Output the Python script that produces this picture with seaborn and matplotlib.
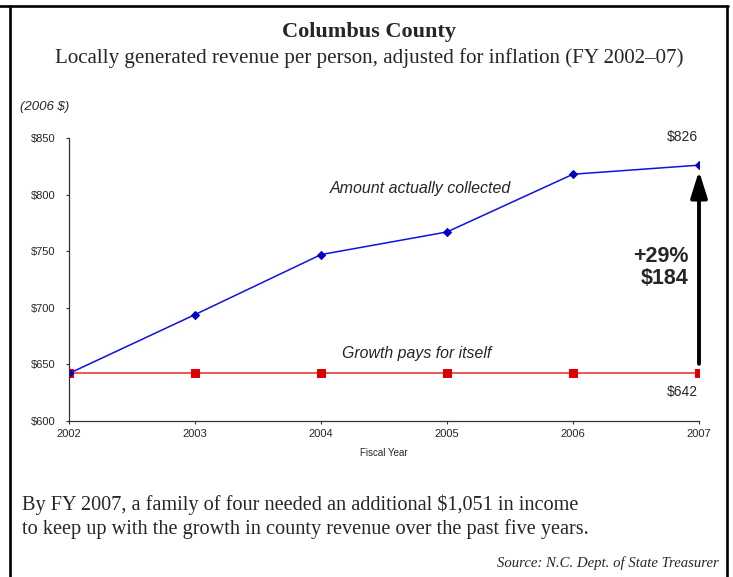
import matplotlib
matplotlib.use("Agg")
import matplotlib.pyplot as plt
import matplotlib.lines as mlines
import seaborn as sns
import pandas as pd

# values
years = [2002, 2003, 2004, 2005, 2006, 2007]
collected = [642, 694, 747, 767, 818, 826]
baseline = [642, 642, 642, 642, 642, 642]
y_ticks = [600, 650, 700, 750, 800, 850]

df = pd.DataFrame({"year": years, "collected": collected, "baseline": baseline})

W, H = 733, 577

sns.set_style("ticks")
plt.rcParams["font.family"] = ["Liberation Sans", "DejaVu Sans"]

fig = plt.figure(figsize=(W / 100, H / 100), dpi=100)
ax = fig.add_axes([69 / W, 1 - 421 / H, 630 / W, 283 / H])

sns.lineplot(data=df, x="year", y="baseline", ax=ax, color="#e8393b", lw=1.2,
             marker="s", markersize=5.5, markeredgecolor="#dd0000",
             markerfacecolor="#dd0000")
sns.lineplot(data=df, x="year", y="collected", ax=ax, color="#1010e0", lw=1.1,
             marker="D", markersize=4, markeredgecolor="#0000c0",
             markerfacecolor="#0000c0")

ax.set_xlim(years[0], years[-1])
ax.set_ylim(y_ticks[0], y_ticks[-1])
ax.set_xticks(years)
ax.set_yticks(y_ticks)
ax.set_yticklabels([f"${v}" for v in y_ticks])
ax.tick_params(labelsize=8, length=2.5, color="#333333", width=0.8)
ax.tick_params(axis="y", pad=7)
ax.set_xlabel("Fiscal Year", fontsize=7, labelpad=6)
ax.set_ylabel("")
for s in ["top", "right"]:
    ax.spines[s].set_visible(False)
for s in ["left", "bottom"]:
    ax.spines[s].set_color("#333333")
    ax.spines[s].set_linewidth(0.9)
ax.patch.set_alpha(0)

# growth arrow
ax.annotate("", xy=(years[-1], 821), xytext=(years[-1], 650.5),
            arrowprops=dict(arrowstyle="-|>,head_width=0.5,head_length=1.6",
                            color="black", lw=2.8, shrinkA=0, shrinkB=0))
pct = round((collected[-1] - baseline[-1]) / baseline[-1] * 100)
ax.text(2006.92, 745, f"+{pct}%", ha="right", va="center",
        fontsize=15.5, fontweight="bold")
ax.text(2006.92, 725.5, f"${collected[-1] - baseline[-1]}", ha="right",
        va="center", fontsize=15.5, fontweight="bold")
ax.text(2006.87, 851, f"${collected[-1]}", ha="center",
        va="center", fontsize=10)
ax.text(2006.87, 625.5, f"${baseline[-1]}", ha="center",
        va="center", fontsize=10)
ax.text(2004.79, 805, "Amount actually collected", ha="center", va="center",
        fontsize=11.5, style="italic")
ax.text(2004.76, 659.5, "Growth pays for itself", ha="center", va="center",
        fontsize=11.4, style="italic")

# titles and notes
serif = ["Liberation Serif", "DejaVu Serif"]
fig.text(369 / W, 1 - 37 / H, "Columbus County", ha="center", va="baseline",
         fontsize=16, fontweight="bold", family=serif)
fig.text(369 / W, 1 - 63 / H,
         "Locally generated revenue per person, adjusted for inflation (FY 2002\u201307)",
         ha="center", va="baseline", fontsize=15.1, family=serif)
fig.text(20 / W, 1 - 107 / H, "(2006 $)", ha="left", va="center",
         fontsize=9.5, style="italic")
fig.text(22 / W, 1 - 510 / H,
         "By FY 2007, a family of four needed an additional $1,051 in income",
         ha="left", va="baseline", fontsize=14.6, family=serif)
fig.text(22 / W, 1 - 534 / H,
         "to keep up with the growth in county revenue over the past five years.",
         ha="left", va="baseline", fontsize=14.6, family=serif)
fig.text(719 / W, 1 - 567 / H, "Source: N.C. Dept. of State Treasurer",
         ha="right", va="baseline", fontsize=10.6, style="italic", family=serif)

# frame around the graphic: top rule plus left and right sides
frame = dict(color="black", lw=1.9, transform=fig.transFigure)
fig.add_artist(mlines.Line2D([0, 728 / W], [1 - 6 / H, 1 - 6 / H], **frame))
fig.add_artist(mlines.Line2D([9.5 / W, 9.5 / W], [0, 1 - 6 / H], **frame))
fig.add_artist(mlines.Line2D([727 / W, 727 / W], [0, 1 - 6 / H], **frame))

fig.savefig("out.png", dpi=100)
